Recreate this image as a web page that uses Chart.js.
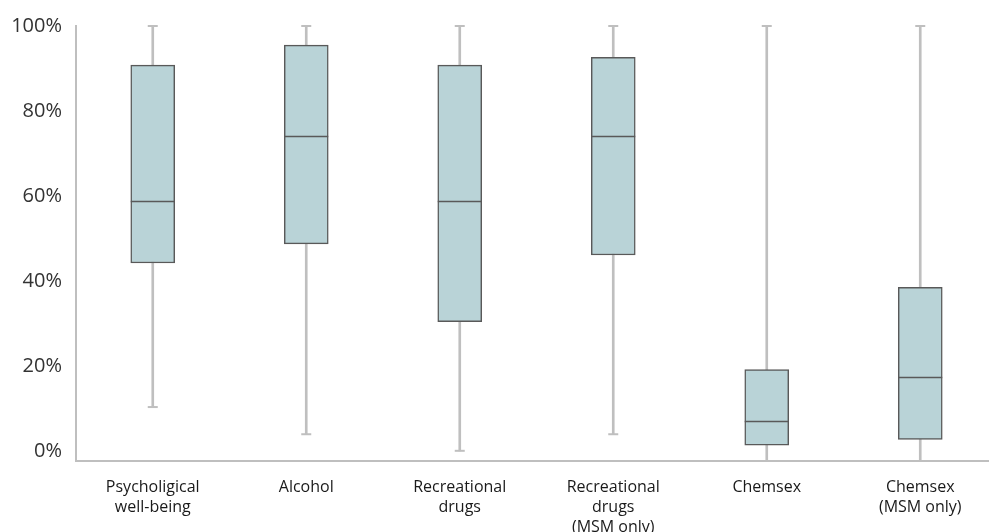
<!DOCTYPE html>
<html>
<head>
<meta charset="utf-8">
<script src="https://cdn.jsdelivr.net/npm/chart.js"></script>
<style>
  html, body { margin: 0; padding: 0; background: #fff; overflow: hidden; }
</style>
</head>
<body>
<canvas id="boxChart" width="1000" height="532"></canvas>
<script>
  // categories, multi-line labels
  const categories = [
    ["Psycholigical", "well-being"],
    ["Alcohol"],
    ["Recreational", "drugs"],
    ["Recreational", "drugs", "(MSM only)"],
    ["Chemsex"],
    ["Chemsex", "(MSM only)"]
  ];

  // box plot stats (%)
  const mins    = [10.3, 3.9, 0.0, 3.9, -2.4, -2.4];
  const q1s     = [44.2, 48.7, 30.4, 46.1, 1.3, 2.7];
  const medians = [58.7, 74.2, 58.7, 74.2, 7.0, 17.3];
  const q3s     = [90.8, 95.5, 90.8, 92.6, 19.1, 38.5];
  const maxs    = [100, 100, 100, 100, 100, 100];

  const yTicks = [0, 20, 40, 60, 80, 100];

  const boxData = q1s.map((q, i) => [q, q3s[i]]);
  const whiskerData = mins.map((m, i) => [m, maxs[i]]);

  // draws medians and whisker caps using the chart scales
  const boxExtras = {
    id: "boxExtras",
    afterDatasetsDraw(chart) {
      const c = chart.ctx;
      const x = chart.scales.x;
      const y = chart.scales.y;
      const boxMeta = chart.getDatasetMeta(0);
      c.save();
      medians.forEach((m, i) => {
        const bar = boxMeta.data[i];
        const half = bar.width / 2;
        const py = Math.round(y.getPixelForValue(m)) + 0.5;
        c.strokeStyle = "#595959";
        c.lineWidth = 1.5;
        c.beginPath();
        c.moveTo(bar.x - half, py);
        c.lineTo(bar.x + half, py);
        c.stroke();
      });
      c.strokeStyle = "#bfbfbf";
      c.lineWidth = 2;
      maxs.forEach((v, i) => {
        const cx = x.getPixelForValue(i);
        const py = y.getPixelForValue(v);
        c.beginPath();
        c.moveTo(cx - 5, py);
        c.lineTo(cx + 5, py);
        c.stroke();
      });
      mins.forEach((v, i) => {
        if (v <= y.min) return;
        const cx = x.getPixelForValue(i);
        const py = y.getPixelForValue(v);
        c.beginPath();
        c.moveTo(cx - 5, py);
        c.lineTo(cx + 5, py);
        c.stroke();
      });
      c.restore();
    }
  };

  new Chart(document.getElementById("boxChart"), {
    type: "bar",
    data: {
      labels: categories,
      datasets: [
        {
          label: "IQR",
          data: boxData,
          backgroundColor: "#b9d3d7",
          borderColor: "#595959",
          borderWidth: 1.5,
          borderSkipped: false,
          barThickness: 44,
          grouped: false,
          order: 1
        },
        {
          label: "Range",
          data: whiskerData,
          backgroundColor: "#bfbfbf",
          borderWidth: 0,
          barThickness: 2,
          grouped: false,
          order: 2
        }
      ]
    },
    options: {
      responsive: false,
      animation: false,
      layout: { padding: { top: 23, right: 3, left: 0, bottom: 0 } },
      plugins: { legend: { display: false }, tooltip: { enabled: false } },
      scales: {
        x: {
          offset: true,
          grid: { display: false, drawTicks: false },
          border: { color: "#bfbfbf", width: 2 },
          ticks: {
            color: "#1a1a1a",
            font: { family: "Open Sans", size: 16, lineHeight: 1.25 },
            padding: 16,
            maxRotation: 0,
            autoSkip: false
          },
          afterFit(scale) { scale.height = 71; }
        },
        y: {
          min: -2.4,
          max: 100,
          afterBuildTicks(scale) {
            scale.ticks = yTicks.map(v => ({ value: v }));
          },
          grid: { display: false, drawTicks: false },
          border: { color: "#bfbfbf", width: 2 },
          ticks: {
            color: "#333",
            font: { family: "Open Sans", size: 20 },
            padding: 14,
            callback: v => v + "%"
          },
          afterFit(scale) { scale.width = 76; }
        }
      }
    },
    plugins: [boxExtras]
  });
</script>
</body>
</html>
